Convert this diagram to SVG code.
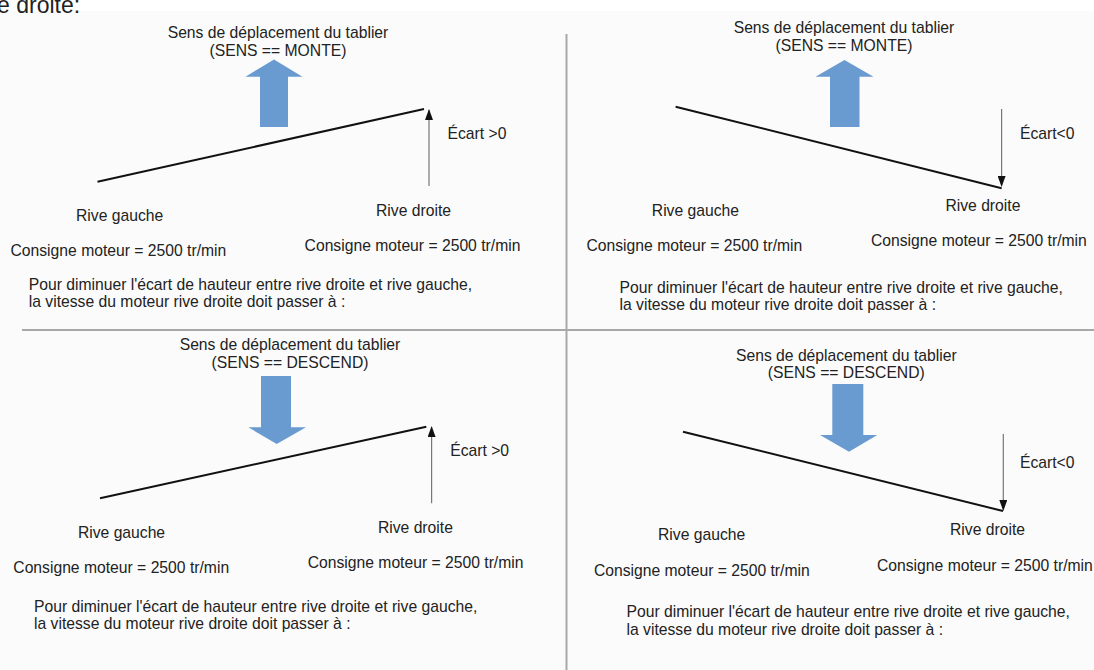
<svg xmlns="http://www.w3.org/2000/svg" width="1094" height="670" viewBox="0 0 1094 670">
<style>
text{font-family:"Liberation Sans",Arial,sans-serif;font-size:15.7px;fill:#222}
.t{text-anchor:middle}
.big{font-size:23px}
.deck{stroke:#111;stroke-width:2;fill:none}
.ecart{stroke:#777;stroke-width:1.2;fill:none}
.blue{fill:#6a9bd0}
.div{stroke:#a8a8a8;stroke-width:2}
</style>
<defs>
<marker id="ah" markerUnits="userSpaceOnUse" markerWidth="11" markerHeight="8" refX="10" refY="4" orient="auto" viewBox="0 0 11 8">
<path d="M0,0 L11,4 L0,8 Z" fill="#111"/>
</marker>
</defs>
<rect x="0" y="0" width="1094" height="670" fill="#fff"/>
<rect x="0" y="11" width="1094" height="659" fill="#fbfbfb"/>
<text class="big" x="-3" y="13">e droite:</text>
<g id="dividers">
<line class="div" x1="566.5" y1="34" x2="566.5" y2="670"/>
<line class="div" x1="22" y1="330" x2="1094" y2="330"/>
</g>
<g id="panel1">
<text class="t" x="278" y="38.3">Sens de déplacement du tablier</text>
<text class="t" x="278" y="55.5">(SENS == MONTE)</text>
<polygon class="blue" points="274,59.5 302.5,76.7 288,76.7 288,127 260,127 260,76.7 245.5,76.7"/>
<text x="447.5" y="139">Écart &gt;0</text>
<text x="76" y="220.5">Rive gauche</text>
<text x="376" y="216">Rive droite</text>
<text x="10.5" y="255.5">Consigne moteur = 2500 tr/min</text>
<text x="304.6" y="250.7">Consigne moteur = 2500 tr/min</text>
<text x="28.8" y="290">Pour diminuer l'écart de hauteur entre rive droite et rive gauche,</text>
<text x="28.8" y="307.3">la vitesse du moteur rive droite doit passer à :</text>
</g>
<g id="panel2">
<text class="t" x="844" y="33.3">Sens de déplacement du tablier</text>
<text class="t" x="844" y="50.7">(SENS == MONTE)</text>
<polygon class="blue" points="844.5,60 873.5,76.7 859.5,76.7 859.5,127 830,127 830,76.7 815.5,76.7"/>
<text x="1020" y="139.3">Écart&lt;0</text>
<text x="651.8" y="216">Rive gauche</text>
<text x="945.4" y="210.7">Rive droite</text>
<text x="586.5" y="250.7">Consigne moteur = 2500 tr/min</text>
<text x="871" y="246">Consigne moteur = 2500 tr/min</text>
<text x="619.5" y="292.7">Pour diminuer l'écart de hauteur entre rive droite et rive gauche,</text>
<text x="619.5" y="310">la vitesse du moteur rive droite doit passer à :</text>
</g>
<g id="panel3">
<text class="t" x="290" y="350">Sens de déplacement du tablier</text>
<text class="t" x="290" y="367.7">(SENS == DESCEND)</text>
<polygon class="blue" points="261,376 291,376 291,427.3 306,427.3 276.7,444 248.3,427.3 261,427.3"/>
<text x="450.2" y="456">Écart &gt;0</text>
<text x="77.9" y="537.7">Rive gauche</text>
<text x="377.9" y="532.7">Rive droite</text>
<text x="13.3" y="572.7">Consigne moteur = 2500 tr/min</text>
<text x="307.7" y="567.7">Consigne moteur = 2500 tr/min</text>
<text x="34" y="612">Pour diminuer l'écart de hauteur entre rive droite et rive gauche,</text>
<text x="34" y="629.3">la vitesse du moteur rive droite doit passer à :</text>
</g>
<g id="panel4">
<text class="t" x="846.3" y="360.7">Sens de déplacement du tablier</text>
<text class="t" x="846.3" y="378.3">(SENS == DESCEND)</text>
<polygon class="blue" points="832.3,384 863.3,384 863.3,435 877.3,435 849,451.7 820,435 832.3,435"/>
<text x="1020" y="468">Écart&lt;0</text>
<text x="658" y="540">Rive gauche</text>
<text x="950" y="535">Rive droite</text>
<text x="593.9" y="575.7">Consigne moteur = 2500 tr/min</text>
<text x="877" y="570.7">Consigne moteur = 2500 tr/min</text>
<text x="626.5" y="617.3">Pour diminuer l'écart de hauteur entre rive droite et rive gauche,</text>
<text x="626.5" y="634.7">la vitesse du moteur rive droite doit passer à :</text>
</g>
<g id="connectors">
<line class="deck" x1="97.5" y1="181.7" x2="424" y2="109"/>
<line class="deck" x1="675.6" y1="106.7" x2="1001.6" y2="188.3"/>
<line class="deck" x1="100" y1="498.3" x2="426.3" y2="426.7"/>
<line class="deck" x1="683" y1="431.7" x2="1003" y2="511"/>
<line class="ecart" x1="429" y1="186" x2="429" y2="110" marker-end="url(#ah)"/>
<line class="ecart" x1="1001.6" y1="109" x2="1001.6" y2="186" marker-end="url(#ah)"/>
<line class="ecart" x1="431.6" y1="503.3" x2="431.6" y2="427" marker-end="url(#ah)"/>
<line class="ecart" x1="1003.3" y1="434" x2="1003.3" y2="510" marker-end="url(#ah)"/>
</g>
</svg>
